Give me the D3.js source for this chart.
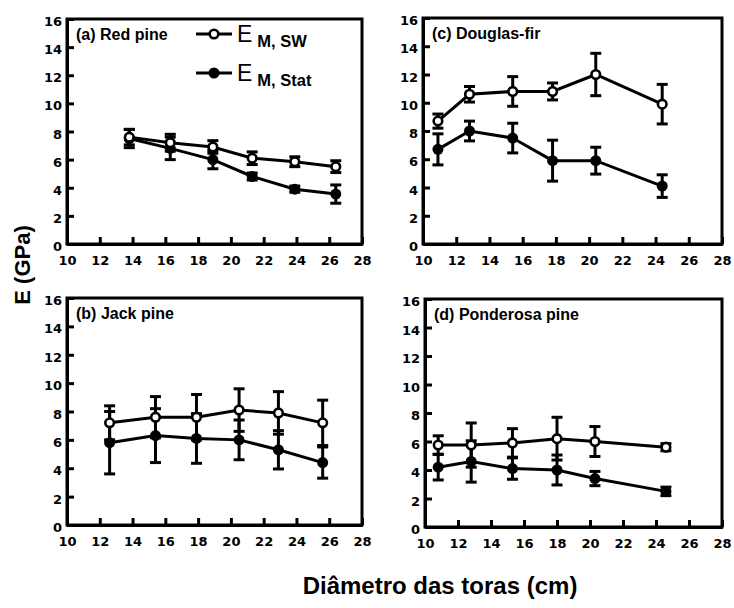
<!DOCTYPE html>
<html>
<head>
<meta charset="utf-8">
<script src="https://cdn.jsdelivr.net/npm/d3@7/dist/d3.min.js"></script>
<style>
  body { margin: 0; background: #fff; }
  text { font-family: "Liberation Sans", Arial, Helvetica, sans-serif; fill: #000; }
</style>
</head>
<body>
<svg id="chart" width="734" height="608"></svg>
<script>
// Axis ticks shared by all four panels
const xTicks = [10, 12, 14, 16, 18, 20, 22, 24, 26, 28];
const yTicks = [0, 2, 4, 6, 8, 10, 12, 14, 16];

// (a) Red pine
const redPineDiameter = [13.8, 16.3, 18.9, 21.3, 23.9, 26.4];
const redPineSW       = [7.6, 7.2, 6.9, 6.1, 5.85, 5.5];
const redPineSWErr    = [0.55, 0.6, 0.45, 0.45, 0.35, 0.42];
const redPineStat     = [7.5, 6.8, 6.0, 4.8, 3.9, 3.55];
const redPineStatErr  = [0.65, 0.8, 0.65, 0.25, 0.22, 0.65];

// (b) Jack pine
const jackPineDiameter = [12.6, 15.4, 17.9, 20.5, 22.9, 25.6];
const jackPineSW       = [7.2, 7.6, 7.6, 8.1, 7.9, 7.2];
const jackPineSWErr    = [1.2, 1.45, 1.6, 1.5, 1.5, 1.6];
const jackPineStat     = [5.8, 6.3, 6.1, 6.0, 5.3, 4.4];
const jackPineStatErr  = [2.2, 1.9, 1.75, 1.4, 1.35, 1.1];

// (c) Douglas-fir
const douglasDiameter = [10.9, 12.8, 15.4, 17.8, 20.4, 24.4];
const douglasSW       = [8.7, 10.6, 10.8, 10.8, 12.0, 9.9];
const douglasSWErr    = [0.5, 0.55, 1.05, 0.6, 1.5, 1.4];
const douglasStat     = [6.7, 8.0, 7.5, 5.9, 5.9, 4.1];
const douglasStatErr  = [1.1, 0.7, 1.05, 1.45, 0.95, 0.8];

// (d) Ponderosa pine
const ponderosaDiameter = [10.8, 12.8, 15.3, 18.0, 20.3, 24.6];
const ponderosaSW       = [5.75, 5.75, 5.9, 6.2, 6.0, 5.6];
const ponderosaSWErr    = [0.65, 1.55, 1.0, 1.5, 1.05, 0.25];
const ponderosaStat     = [4.2, 4.6, 4.1, 4.0, 3.4, 2.5];
const ponderosaStatErr  = [0.9, 1.45, 0.75, 1.05, 0.5, 0.3];

// Panel frames (pixel boxes) and titles
const panels = [
  { title: "(a) Red pine", box: { left: 67, right: 362, top: 19, bottom: 244 },
    x: redPineDiameter, sw: redPineSW, swErr: redPineSWErr, stat: redPineStat, statErr: redPineStatErr },
  { title: "(c) Douglas-fir", box: { left: 423, right: 722, top: 18, bottom: 244 },
    x: douglasDiameter, sw: douglasSW, swErr: douglasSWErr, stat: douglasStat, statErr: douglasStatErr },
  { title: "(b) Jack pine", box: { left: 67, right: 362, top: 298, bottom: 525 },
    x: jackPineDiameter, sw: jackPineSW, swErr: jackPineSWErr, stat: jackPineStat, statErr: jackPineStatErr },
  { title: "(d) Ponderosa pine", box: { left: 425, right: 722, top: 299, bottom: 527 },
    x: ponderosaDiameter, sw: ponderosaSW, swErr: ponderosaSWErr, stat: ponderosaStat, statErr: ponderosaStatErr }
];

const svg = d3.select("#chart");
const STROKE = 3;

panels.forEach(p => {
  const b = p.box;
  const x = d3.scaleLinear().domain([10, 28]).range([b.left, b.right]);
  const y = d3.scaleLinear().domain([0, 16]).range([b.bottom, b.top]);
  const g = svg.append("g");

  // frame
  g.append("rect")
    .attr("x", b.left).attr("y", b.top)
    .attr("width", b.right - b.left).attr("height", b.bottom - b.top)
    .attr("fill", "none").attr("stroke", "#000").attr("stroke-width", STROKE);

  // axes with inward ticks
  const yAxis = d3.axisLeft(y).tickValues(yTicks).tickSizeInner(-7).tickSizeOuter(0).tickPadding(5);
  const xAxis = d3.axisBottom(x).tickValues(xTicks).tickSizeInner(-7).tickSizeOuter(0).tickPadding(12);

  const ya = g.append("g").attr("transform", `translate(${b.left},0)`).call(yAxis);
  const xa = g.append("g").attr("transform", `translate(0,${b.bottom})`).call(xAxis);
  [ya, xa].forEach(a => {
    a.select(".domain").attr("stroke", "#000").attr("stroke-width", STROKE);
    a.selectAll(".tick line").attr("stroke", "#000").attr("stroke-width", STROKE);
    a.selectAll(".tick text")
      .style("font-family", "'DejaVu Sans', 'Liberation Sans', sans-serif")
      .attr("font-size", 13).attr("font-weight", "bold").attr("fill", "#000");
  });
  ya.selectAll(".tick text").attr("dy", "0.5em");

  // panel title
  g.append("text")
    .attr("x", b.left + 9).attr("y", b.top + 21)
    .attr("font-size", 16).attr("font-weight", "bold")
    .text(p.title);

  const idx = d3.range(p.x.length);
  const line = d3.line().x(k => x(p.x[k]));

  // series lines
  g.append("path").datum(idx)
    .attr("d", line.y(k => y(p.sw[k])))
    .attr("fill", "none").attr("stroke", "#000").attr("stroke-width", STROKE);
  g.append("path").datum(idx)
    .attr("d", line.y(k => y(p.stat[k])))
    .attr("fill", "none").attr("stroke", "#000").attr("stroke-width", STROKE);

  // error bars for both series
  const drawErr = (vals, errs) => {
    const eb = g.append("g").attr("stroke", "#000").attr("stroke-width", STROKE);
    idx.forEach(k => {
      const cx = x(p.x[k]);
      const y1 = y(vals[k] + errs[k]);
      const y0 = y(vals[k] - errs[k]);
      eb.append("line").attr("x1", cx).attr("x2", cx).attr("y1", y1).attr("y2", y0);
      eb.append("line").attr("x1", cx - 5.5).attr("x2", cx + 5.5).attr("y1", y1).attr("y2", y1);
      eb.append("line").attr("x1", cx - 5.5).attr("x2", cx + 5.5).attr("y1", y0).attr("y2", y0);
    });
  };
  drawErr(p.sw, p.swErr);
  drawErr(p.stat, p.statErr);

  // markers
  g.selectAll(".stat").data(idx).join("circle")
    .attr("cx", k => x(p.x[k])).attr("cy", k => y(p.stat[k]))
    .attr("r", 5.5).attr("fill", "#000");
  g.selectAll(".sw").data(idx).join("circle")
    .attr("cx", k => x(p.x[k])).attr("cy", k => y(p.sw[k]))
    .attr("r", 4.3).attr("fill", "#fff").attr("stroke", "#000").attr("stroke-width", 2.6);
});

// legend inside panel (a)
const legend = svg.append("g");
const legendItems = [
  { sub: "M, SW", open: true, y: 34 },
  { sub: "M, Stat", open: false, y: 73 }
];
legendItems.forEach(it => {
  legend.append("line").attr("x1", 196).attr("x2", 232).attr("y1", it.y).attr("y2", it.y)
    .attr("stroke", "#000").attr("stroke-width", STROKE);
  legend.append("circle").attr("cx", 214).attr("cy", it.y)
    .attr("r", it.open ? 4.3 : 5.5)
    .attr("fill", it.open ? "#fff" : "#000")
    .attr("stroke", "#000").attr("stroke-width", it.open ? 2.6 : 0);
  const t = legend.append("text").attr("x", 237).attr("y", it.y + 8)
    .attr("font-size", 23);
  t.append("tspan").text("E");
  t.append("tspan").attr("dx", 5).attr("dy", 5).attr("font-size", 16.5).attr("font-weight", "bold").text(it.sub);
});

// shared axis titles
svg.append("text")
  .attr("transform", "translate(30,265) rotate(-90)")
  .attr("text-anchor", "middle")
  .attr("font-size", 22).attr("font-weight", "bold")
  .text("E (GPa)");

svg.append("text")
  .attr("x", 440).attr("y", 594)
  .attr("text-anchor", "middle")
  .attr("font-size", 24).attr("font-weight", "bold")
  .text("Diâmetro das toras (cm)");
</script>
</body>
</html>
